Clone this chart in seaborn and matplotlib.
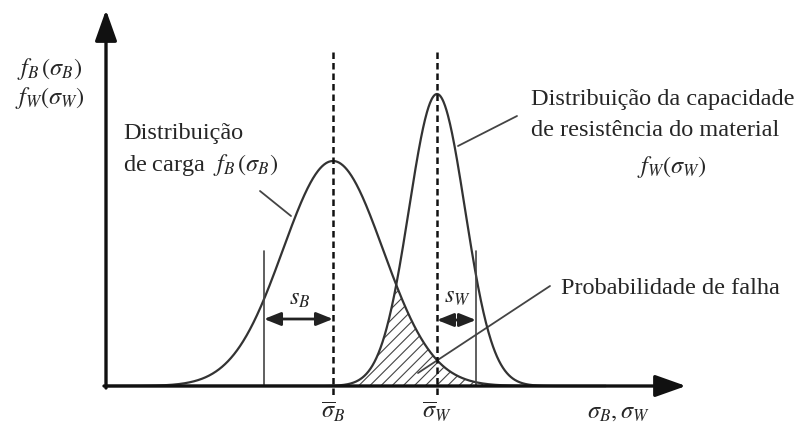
import numpy as np
import pandas as pd
import matplotlib
matplotlib.use("Agg")
import matplotlib.pyplot as plt
import seaborn as sns

# ---- data (schematic units: x = stress, y = density, origin at axes corner) ----
dist_names = ["carga", "resistencia"]
means = [227, 331]            # mean stress of load (B) and resistance (W)
sigmas = [50, 28]             # spread of each curve
peaks = [225, 292]            # peak density height
s_marks = [69, 39]            # annotated spread s_B, s_W
x_grid = np.linspace(0, 500, 1001)

sns.set_theme(style="white")
plt.rcParams["font.family"] = ["Liberation Serif", "DejaVu Serif"]
plt.rcParams["mathtext.fontset"] = "stix"
plt.rcParams["hatch.linewidth"] = 0.8

frames = []
for name, m, s, h in zip(dist_names, means, sigmas, peaks):
    frames.append(pd.DataFrame({"x": x_grid,
                                "y": h * np.exp(-0.5 * ((x_grid - m) / s) ** 2),
                                "dist": name}))
df = pd.concat(frames, ignore_index=True)

OX, OY = 106, 387
def P(px, py):
    return px - OX, OY - py

fig = plt.figure(figsize=(8.07, 4.27), dpi=100)
ax = fig.add_axes([0, 0, 1, 1])
ax.set_xlim(-OX, 807 - OX)
ax.set_ylim(OY - 427, OY)
ax.axis("off")

sns.lineplot(data=df, x="x", y="y", hue="dist", palette=["#333333", "#333333"],
             linewidth=1.6, legend=False, ax=ax, zorder=3)

fB = df[df.dist == "carga"]["y"].to_numpy()
fW = df[df.dist == "resistencia"]["y"].to_numpy()
overlap = np.minimum(fB, fW)
ax.fill_between(x_grid, 0, overlap, where=overlap > 0.3, facecolor="none",
                hatch="///", edgecolor="#444444", linewidth=0, zorder=2)

# axes with arrows
axis_arrow = dict(arrowstyle="-|>,head_length=1.35,head_width=0.48",
                  mutation_scale=14, lw=2.4, color="#111111", shrinkA=0, shrinkB=0)
ax.annotate("", xy=P(106, 11), xytext=P(106, 389), arrowprops=axis_arrow, zorder=5)
ax.annotate("", xy=P(686, 387), xytext=P(104, 387), arrowprops=axis_arrow, zorder=5)

# dashed mean lines
for m in means:
    ax.plot([m, m], [OY - 53, OY - 397], color="#111111", lw=1.8,
            linestyle=(0, (2.6, 1.6)), zorder=4)

# sigma marker lines and arrows
ax.plot([means[0] - s_marks[0]] * 2, [0, OY - 252], color="#444444", lw=1.2, zorder=3)
ax.plot([means[1] + s_marks[1]] * 2, [0, OY - 252], color="#444444", lw=1.2, zorder=3)
arr = dict(arrowstyle="<|-|>,head_length=1.0,head_width=0.4", mutation_scale=10,
           lw=2.0, color="#222222", shrinkA=0, shrinkB=0)
ax.annotate("", xy=(means[0] - s_marks[0], OY - 320), xytext=(means[0], OY - 320),
            arrowprops=arr)
ax.annotate("", xy=(means[1], OY - 321), xytext=(means[1] + s_marks[1], OY - 321),
            arrowprops=arr)

fs = 17.5
ax.text(*P(300, 300), r"$s_B$", fontsize=fs, ha="center", va="center")
ax.text(*P(457, 297), r"$s_W$", fontsize=fs, ha="center", va="center")

# y-axis label
ax.text(*P(50, 69), r"$f_B\,(\sigma_B)$", fontsize=fs, ha="center", va="center")
ax.text(*P(50, 98), r"$f_W(\sigma_W)$", fontsize=fs, ha="center", va="center")

# x labels
ax.text(*P(333, 412), r"$\overline{\sigma}_B$", fontsize=fs, ha="center", va="center")
ax.text(*P(437, 412), r"$\overline{\sigma}_W$", fontsize=fs, ha="center", va="center")
ax.text(*P(618, 413), r"$\sigma_B,\sigma_W$", fontsize=fs, ha="center", va="center")

# annotations
ax.text(*P(123, 134), "Distribuição", fontsize=fs, ha="left", va="center")
ax.text(*P(123, 165), "de carga  " + r"$f_B\,(\sigma_B)$", fontsize=fs, ha="left", va="center")
ax.plot(*zip(P(260, 192), P(291, 217)), color="#444444", lw=1.3)

ax.text(*P(531, 100), "Distribuição da capacidade", fontsize=fs, ha="left", va="center")
ax.text(*P(531, 131), "de resistência do material", fontsize=fs, ha="left", va="center")
ax.text(*P(672, 167), r"$f_W(\sigma_W)$", fontsize=fs, ha="center", va="center")
ax.plot(*zip(P(517, 117), P(458, 147)), color="#444444", lw=1.3)

ax.text(*P(561, 288), "Probabilidade de falha", fontsize=fs, ha="left", va="center")
ax.plot(*zip(P(550, 287), P(418, 374)), color="#444444", lw=1.3)

fig.savefig("out.png", dpi=100)
